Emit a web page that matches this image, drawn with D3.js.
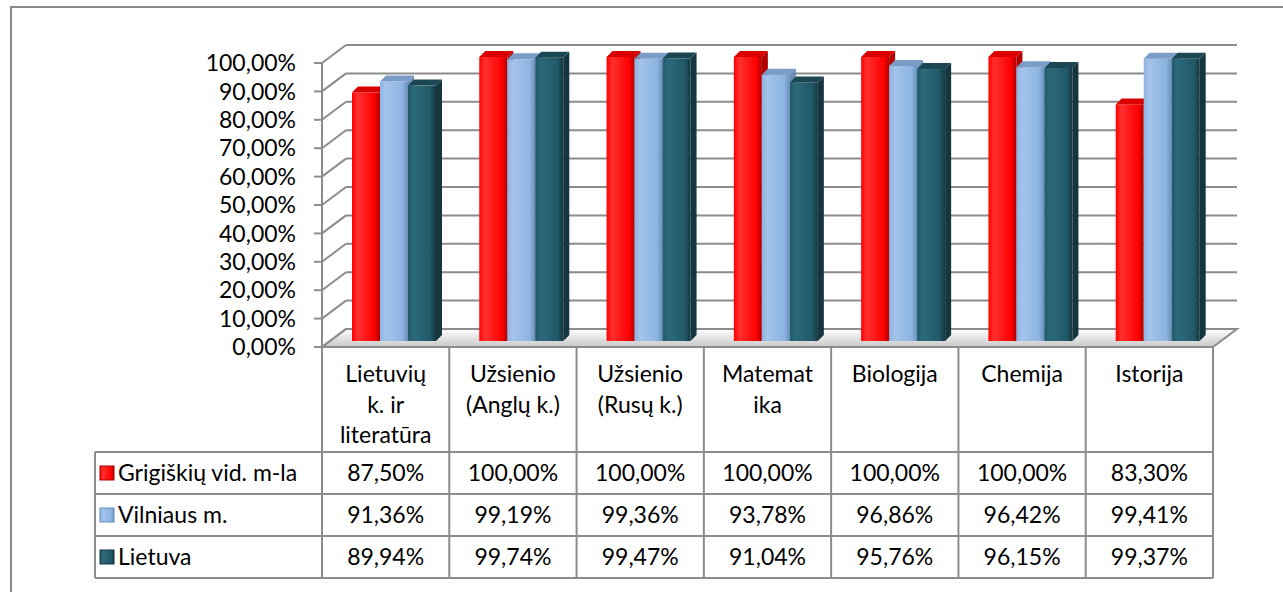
<!DOCTYPE html>
<html>
<head>
<meta charset="utf-8">
<script src="https://cdn.jsdelivr.net/npm/d3@7"></script>
<style>
  body { margin: 0; background: #fff; }
  svg { display: block; font-family: Lato, "Open Sans", sans-serif; }
</style>
</head>
<body>
<svg id="chart" width="1283" height="592"></svg>
<script>
// data
const categories = [
  ['Lietuvių', 'k. ir', 'literatūra'],
  ['Užsienio', '(Anglų k.)'],
  ['Užsienio', '(Rusų k.)'],
  ['Matemat', 'ika'],
  ['Biologija'],
  ['Chemija'],
  ['Istorija']
];
const seriesNames = ['Grigiškių vid. m-la', 'Vilniaus m.', 'Lietuva'];
const grigiskiu = [87.50, 100.00, 100.00, 100.00, 100.00, 100.00, 83.30];
const vilniaus = [91.36, 99.19, 99.36, 93.78, 96.86, 96.42, 99.41];
const lietuva = [89.94, 99.74, 99.47, 91.04, 95.76, 96.15, 99.37];
const yTicks = [0, 10, 20, 30, 40, 50, 60, 70, 80, 90, 100];

const series = [grigiskiu, vilniaus, lietuva];
const colors = [
  { front: '#ff0000', light: '#ff3030', side: '#b00000', top: '#d80000' },
  { front: '#8db4e2', light: '#a3c3ea', side: '#6b8db8', top: '#7a9cc6' },
  { front: '#215968', light: '#2b6a7b', side: '#15363f', top: '#1a4753' }
];

const svg = d3.select('#chart');
const grid = '#8c8c8c';
const fs = 23;
const fmt = v => v.toFixed(2).replace('.', ',') + '%';

// 3D geometry
const front = { left: 322, right: 1213, bottom: 347, top: 63 };
const depth = { dx: 24, dy: -18 };

const x = d3.scaleBand().domain(d3.range(categories.length)).range([front.left, front.right]);
const inner = d3.scaleBand().domain(d3.range(series.length)).range([30, 114]);
const yFront = d3.scaleLinear().domain([0, 100]).range([front.bottom, front.top]);
const yBar = d3.scaleLinear().domain([0, 100]).range([front.bottom - 6, front.top - 6]);

// outer frame
svg.append('rect')
  .attr('x', 11).attr('y', 7).attr('width', 1300).attr('height', 600)
  .attr('fill', 'none').attr('stroke', '#888').attr('stroke-width', 2);

const defs = svg.append('defs');
const floorGrad = defs.append('linearGradient').attr('id', 'floor')
  .attr('x1', 0).attr('y1', 1).attr('x2', 0).attr('y2', 0);
floorGrad.append('stop').attr('offset', '0%').attr('stop-color', '#c8c8c8');
floorGrad.append('stop').attr('offset', '100%').attr('stop-color', '#ffffff');

colors.forEach((c, i) => {
  const g = defs.append('linearGradient').attr('id', 'bar' + i)
    .attr('x1', 0).attr('y1', 0).attr('x2', 1).attr('y2', 0);
  g.append('stop').attr('offset', '0%').attr('stop-color', c.front);
  g.append('stop').attr('offset', '20%').attr('stop-color', c.light);
  g.append('stop').attr('offset', '80%').attr('stop-color', c.front);
  g.append('stop').attr('offset', '100%').attr('stop-color', c.side);
});

// floor
const fl = front.left, fr = front.right, fb = front.bottom;
svg.append('path')
  .attr('d', `M${fl},${fb}L${fl + depth.dx},${fb + depth.dy}L${fr + depth.dx},${fb + depth.dy}L${fr},${fb}Z`)
  .attr('fill', 'url(#floor)').attr('stroke', grid).attr('stroke-width', 2);

// back wall grid lines + side wall diagonals
yTicks.forEach(t => {
  const yf = yFront(t);
  if (t > 0) {
    svg.append('line')
      .attr('x1', fl + depth.dx).attr('x2', fr + depth.dx)
      .attr('y1', yf + depth.dy).attr('y2', yf + depth.dy)
      .attr('stroke', grid).attr('stroke-width', 2);
  }
  svg.append('line')
    .attr('x1', fl).attr('y1', yf)
    .attr('x2', fl + depth.dx).attr('y2', yf + depth.dy)
    .attr('stroke', grid).attr('stroke-width', 2);
});

// front vertical axis with ticks
svg.append('line')
  .attr('x1', fl).attr('x2', fl).attr('y1', yFront(100)).attr('y2', fb)
  .attr('stroke', grid).attr('stroke-width', 2);
svg.selectAll('.ytick').data(yTicks).enter().append('line')
  .attr('x1', fl - 8).attr('x2', fl)
  .attr('y1', d => yFront(d)).attr('y2', d => yFront(d))
  .attr('stroke', grid).attr('stroke-width', 2);
svg.selectAll('.ylab').data(yTicks).enter().append('text')
  .attr('x', 296).attr('y', d => yFront(d)).attr('dy', '0.36em')
  .attr('text-anchor', 'end').attr('font-size', fs).attr('fill', '#000')
  .text(d => fmt(d));

// bars
const bw = inner.bandwidth();
const bd = 6;
series.forEach((vals, si) => {
  const c = colors[si];
  const g = svg.append('g');
  vals.forEach((v, ci) => {
    const x0 = x(ci) + inner(si);
    const yt = yBar(v), yb = yBar(0);
    g.append('path')
      .attr('d', `M${x0 + bw},${yt}L${x0 + bw + bd},${yt - bd}L${x0 + bw + bd},${yb - bd}L${x0 + bw},${yb}Z`)
      .attr('fill', c.side);
    g.append('rect')
      .attr('x', x0).attr('y', yt).attr('width', bw).attr('height', yb - yt)
      .attr('fill', `url(#bar${si})`);
    g.append('path')
      .attr('d', `M${x0},${yt}L${x0 + bd},${yt - bd}L${x0 + bw + bd},${yt - bd}L${x0 + bw},${yt}Z`)
      .attr('fill', c.top);
  });
});

// data table
const rowTop = [front.bottom, 452, 494, 536, 578];
const legLeft = 95;
svg.append('line').attr('x1', fl).attr('x2', fl).attr('y1', fb).attr('y2', rowTop[4])
  .attr('stroke', grid).attr('stroke-width', 2);
d3.range(categories.length).forEach(ci => {
  svg.append('line')
    .attr('x1', x(ci) + x.bandwidth()).attr('x2', x(ci) + x.bandwidth())
    .attr('y1', fb).attr('y2', rowTop[4])
    .attr('stroke', grid).attr('stroke-width', 2);
});
[1, 2, 3, 4].forEach(r => {
  svg.append('line').attr('x1', legLeft).attr('x2', fr)
    .attr('y1', rowTop[r]).attr('y2', rowTop[r])
    .attr('stroke', grid).attr('stroke-width', 2);
});
svg.append('line').attr('x1', legLeft).attr('x2', legLeft).attr('y1', rowTop[1]).attr('y2', rowTop[4])
  .attr('stroke', grid).attr('stroke-width', 2);

// header labels
categories.forEach((lines, ci) => {
  svg.append('g').selectAll('text').data(lines).enter().append('text')
    .attr('x', x(ci) + x.bandwidth() / 2)
    .attr('y', (d, i) => 382 + i * 30.5)
    .attr('text-anchor', 'middle').attr('font-size', fs)
    .text(d => d);
});

// rows
series.forEach((vals, si) => {
  const yc = (rowTop[si + 1] + rowTop[si + 2]) / 2;
  const c = colors[si];
  svg.append('rect')
    .attr('x', legLeft + 5).attr('y', yc - 7).attr('width', 14).attr('height', 14)
    .attr('fill', `url(#bar${si})`).attr('stroke', c.side).attr('stroke-width', 1);
  svg.append('text')
    .attr('x', legLeft + 23).attr('y', yc).attr('dy', '0.36em')
    .attr('font-size', fs).text(seriesNames[si]);
  svg.append('g').selectAll('text').data(vals).enter().append('text')
    .attr('x', (d, ci) => x(ci) + x.bandwidth() / 2)
    .attr('y', yc).attr('dy', '0.36em')
    .attr('text-anchor', 'middle').attr('font-size', fs)
    .text(d => fmt(d));
});
</script>
</body>
</html>
